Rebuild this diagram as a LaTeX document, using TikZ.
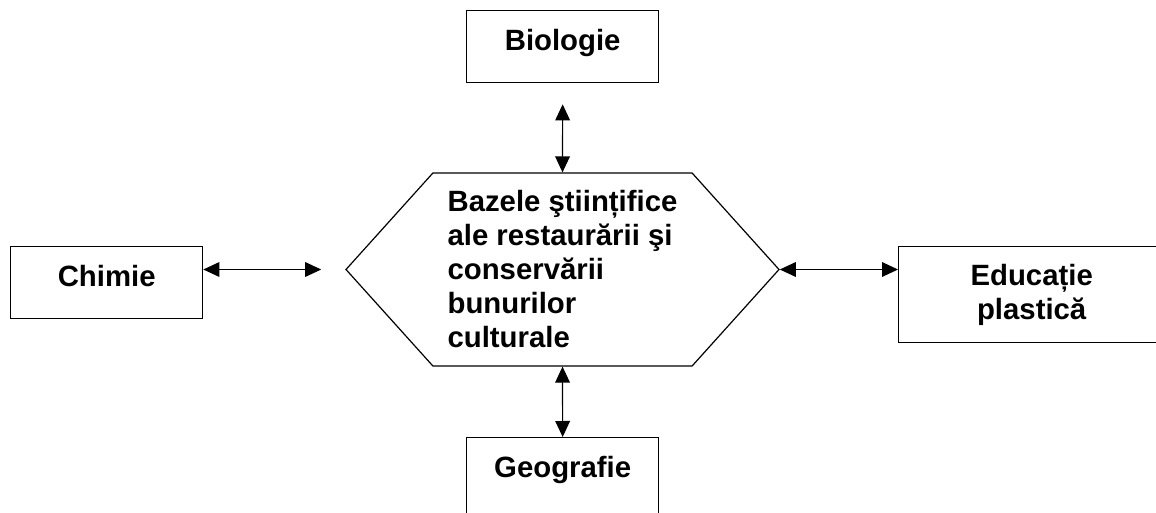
\documentclass[tikz,border=0pt]{standalone}
\usepackage{fontspec}
\setmainfont{Liberation Sans}
\usetikzlibrary{arrows.meta,shapes.symbols}

\begin{document}
\begin{tikzpicture}[x=0.75pt,y=-0.75pt,>={Triangle[length=12pt,width=11pt]},
    every node/.style={font=\bfseries\fontsize{22pt}{25.5pt}\selectfont},
    box/.style={draw,line width=1pt,inner sep=0pt,minimum width=144pt,anchor=north west},
    onebox/.style={box,text height=29.6pt,text depth=24.4pt},
    link/.style={<->,line width=0.9pt}]

    \useasboundingbox (0,0) rectangle (1156,513);
    \clip (0,0) rectangle (1156,513);

    % the subject in the middle
    \node[draw,line width=0.9pt,signal,signal to=west and east,signal pointer angle=96,
          minimum width=324.75pt,minimum height=144.75pt,align=left] (core) at (562.5,269.5)
          {Bazele ştiințifice\\ale restaurării şi\\conservării\\bunurilor\\culturale};

    % the related subjects
    \node[onebox]                    (chem) at (10,246)  {Chimie};
    \node[onebox]                    (bio)  at (466,10)  {Biologie};
    \node[onebox,text depth=45pt]    (geo)  at (466,437) {Geografie};
    \node[box,minimum width=199.5pt,minimum height=72pt,align=center]
                                     (edu)  at (898,246) {Educație\\plastică};

    % links
    \draw[link] (chem.east |- core.west) -- ([xshift=-18pt]core.west);
    \draw[link] (core.north) -- ([yshift=-15.75pt]bio.south);
    \draw[link] (core.south) -- (geo.north);
    \draw[link] (core.east) -- (edu.west |- core.east);
\end{tikzpicture}
\end{document}
